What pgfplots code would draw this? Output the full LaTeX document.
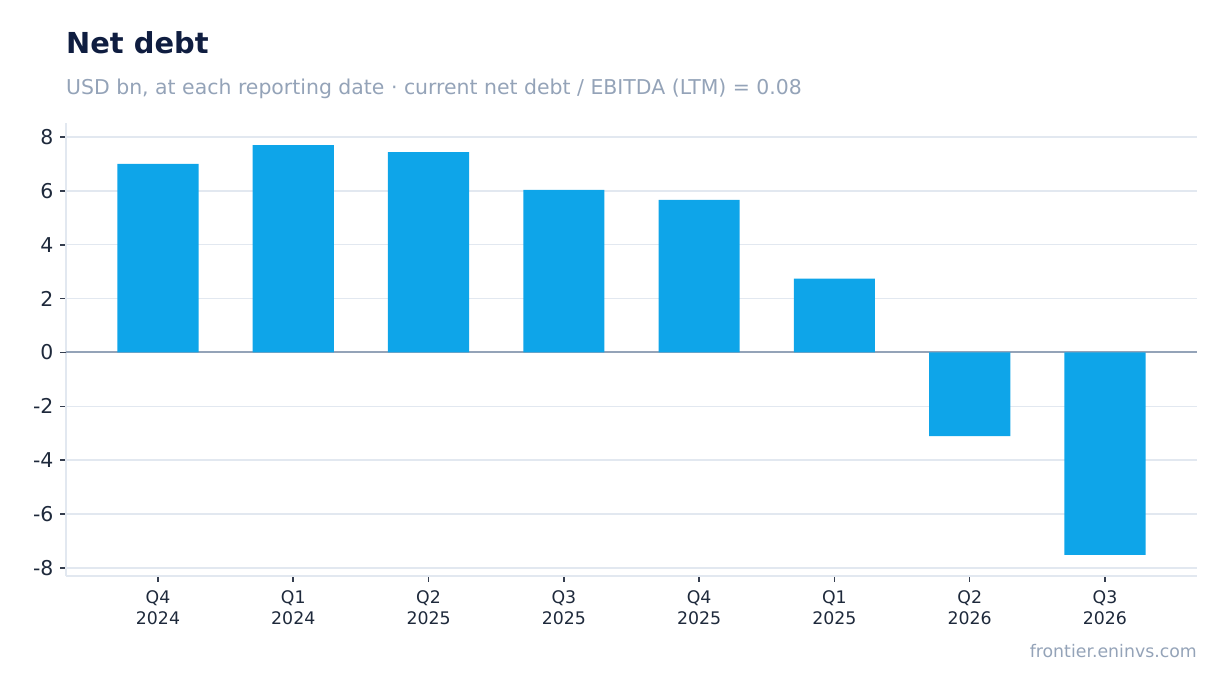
\documentclass[border=0pt]{standalone}
\usepackage{pgfplots}
\pgfplotsset{compat=1.18}
\usepackage{fontspec}
\setmainfont{DejaVu Sans}

\definecolor{barblue}{HTML}{0EA5E9}
\definecolor{titlec}{HTML}{0F1D40}
\definecolor{subc}{HTML}{94A3B8}
\definecolor{tickc}{HTML}{1E293B}
\definecolor{gridc}{HTML}{E2E8F0}
\definecolor{spinec}{HTML}{E2E8F0}
\definecolor{zeroc}{HTML}{94A3B8}

\begin{document}
\begin{tikzpicture}[x=1bp,y=1bp]
\path[use as bounding box] (0,0) rectangle (1228,693);

\node[anchor=base west, inner sep=0pt, text=titlec,
      font=\fontsize{29}{34}\selectfont\bfseries] at (66,639) {Net debt};
\node[anchor=base west, inner sep=0pt, text=subc,
      font=\fontsize{20.5}{24}\selectfont] at (66,598.5)
      {USD bn, at each reporting date · current net debt / EBITDA (LTM) = 0.08};
\node[anchor=base east, inner sep=0pt, text=subc,
      font=\fontsize{17.4}{21}\selectfont] at (1197,35) {frontier.eninvs.com};

\begin{axis}[
    at={(66bp,117bp)}, anchor=south west,
    scale only axis,
    width=1131bp, height=453bp,
    ybar, bar width=0.6, bar shift=0pt,
    xmin=-0.68, xmax=7.68,
    ymin=-8.3, ymax=8.52,
    xtick={0,...,7},
    xticklabels={{Q4\\2024},{Q1\\2024},{Q2\\2025},{Q3\\2025},{Q4\\2025},{Q1\\2025},{Q2\\2026},{Q3\\2026}},
    ytick={-8,-6,...,8},
    axis x line*=bottom, axis y line*=left,
    axis line style={draw=spinec, line width=1.5bp, -},
    tick align=outside,
    major tick length=6bp,
    tick style={color=tickc!90, line width=1.6bp},
    ymajorgrids,
    major grid style={draw=gridc, line width=1.5bp},
    /pgf/number format/assume math mode=true,
    yticklabel style={font=\fontsize{20.5}{24}\selectfont, text=tickc, xshift=-3bp},
    xticklabel style={font=\fontsize{17.4}{21}\selectfont, text=tickc, align=center, yshift=-5bp},
    extra y ticks={0},
    extra y tick labels={},
    extra y tick style={grid=major, major grid style={draw=zeroc, line width=2bp}},
]
\addplot[fill=barblue, draw=none] coordinates {
    (0,7.00) (1,7.70) (2,7.44) (3,6.04) (4,5.67) (5,2.74) (6,-3.11) (7,-7.52)
};
\end{axis}
\end{tikzpicture}
\end{document}
